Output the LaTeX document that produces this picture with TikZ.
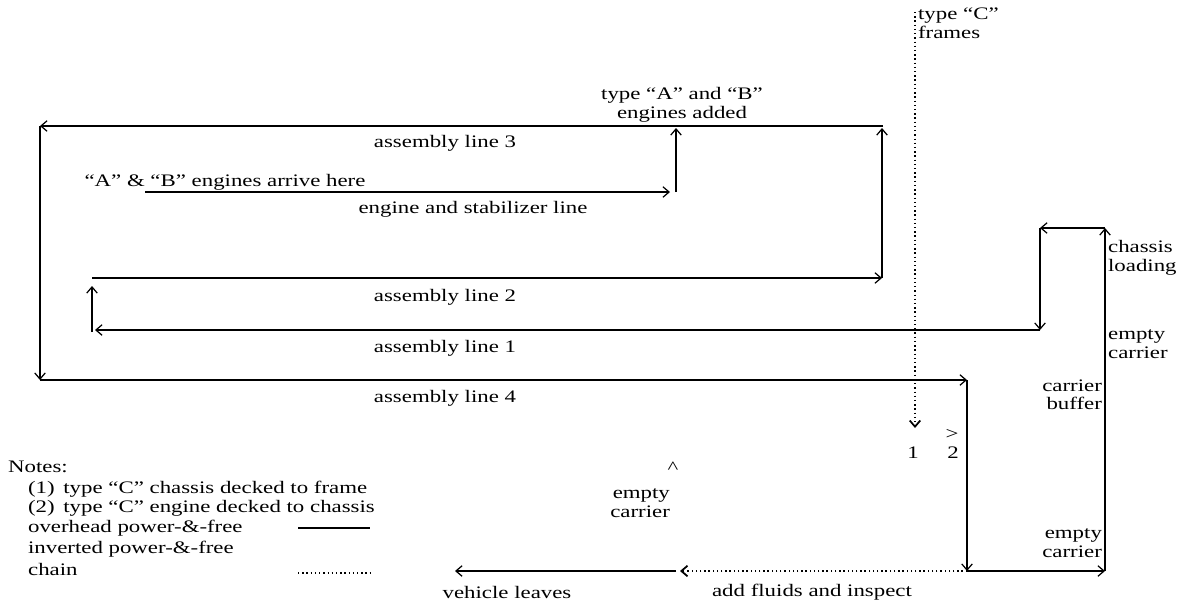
\documentclass[tikz,border=0pt]{standalone}
\usepackage{fontspec}
\setmainfont[FakeStretch=1.3]{Liberation Serif}
\usetikzlibrary{arrows.meta}

\tikzset{
  conv/.style={line width=0.7pt, -{Straight Barb[length=3.5pt,width=6pt]}},
  chainline/.style={conv, dash pattern=on 0.8pt off 1.6pt, line width=1pt},
  plain/.style={line width=0.7pt},
  lbl/.style={inner sep=1pt, font=\fontsize{10}{10.5}\selectfont},
}

\begin{document}
\begin{tikzpicture}[x=0.02cm,y=-0.02cm]
\useasboundingbox (0,0) rectangle (1189,603);

%% corner points

\coordinate (l3e) at (883,126);
\coordinate (l3w) at (40,126);
\coordinate (l4w) at (40,380);
\coordinate (l4e) at (967,380);
\coordinate (l2w) at (92,278);
\coordinate (l2e) at (882,278);
\coordinate (l1e) at (1040,330);
\coordinate (l1w) at (95,330);
\coordinate (l2in) at (92,332);
\coordinate (l2up) at (92,286);
\coordinate (engw) at (145,192);
\coordinate (enge) at (670,192);
\coordinate (engbot) at (676,192);
\coordinate (engtop) at (676,128);
\coordinate (l3in) at (882,128);
\coordinate (cltop) at (1105,228);
\coordinate (cltopw) at (1040,228);
\coordinate (cbot) at (1105,571);
\coordinate (fluide) at (967,571);
\coordinate (fluidw) at (680,571);
\coordinate (leavee) at (676,571);
\coordinate (leave) at (455,571);
\coordinate (cftop) at (915,12);
\coordinate (cfbot) at (915,428);

%% lines

\draw[conv] (l3e) -- (l3w);
\draw[conv] (l3w) -- (l4w);
\draw[conv] (l4w) -- (l4e);
\draw[conv] (l4e) -- (fluide);
\draw[conv] (fluide) -- (cbot);
\draw[conv] (cbot) -- (cltop);
\draw[conv] (cltop) -- (cltopw);
\draw[conv] (cltopw) -- (l1e);
\draw[conv] (l1e) -- (l1w);
\draw[conv] (l2in) -- (l2up);
\draw[conv] (l2w) -- (l2e);
\draw[conv] (l2e) -- (l3in);
\draw[conv] (engw) -- (enge);
\draw[conv] (engbot) -- (engtop);
\draw[chainline] (fluide) -- (fluidw);
\draw[conv] (leavee) -- (leave);
\draw[chainline] (cftop) -- (cfbot);

%% labels

\node[lbl, align=left, anchor=north west] (cframes) at (916,6) {type ``C''\\frames};
\node[lbl, align=center] (abadded) at (682,105) {type ``A'' and ``B''\\engines added};
\node[lbl] (line3) at (445,143) {assembly line 3};
\node[lbl] (arrive) at (225,182) {``A'' \& ``B'' engines arrive here};
\node[lbl] (engline) at (473,209) {engine and stabilizer line};
\node[lbl] (line2) at (445,297) {assembly line 2};
\node[lbl] (line1) at (445,348) {assembly line 1};
\node[lbl] (line4) at (445,398) {assembly line 4};
\node[lbl, align=left, anchor=west] (loading) at (1106,258) {chassis\\loading};
\node[lbl, align=left, anchor=west] (empty1) at (1106,344) {empty\\carrier};
\node[lbl, align=right, anchor=east] (buffer) at (1104,395) {carrier\\buffer};
\node[lbl, align=right, anchor=east] (empty2) at (1104,543) {empty\\carrier};
\node[lbl, align=right, anchor=east] (empty3) at (672,503) {empty\\carrier};
\node[lbl] (caret) at (673,468) {\textasciicircum};
\node[lbl] (one) at (913,453) {1};
\node[lbl] (gt) at (952,434) {>};
\node[lbl] (two) at (953,453) {2};
\node[lbl] (leaves) at (507,592) {vehicle leaves};
\node[lbl] (fluids) at (812,592) {add fluids and inspect};

%% notes

\node[lbl, anchor=west] (notes) at (6,467) {Notes:};
\node[lbl, anchor=west] (note1) at (26,489) {(1)\, type ``C'' chassis decked to frame};
\node[lbl, anchor=west] (note2) at (26,508) {(2)\, type ``C'' engine decked to chassis};
\node[lbl, anchor=west] (overhead) at (26,528) {overhead power-\&-free};
\node[lbl, anchor=west] (inverted) at (26,549) {inverted power-\&-free};
\node[lbl, anchor=west] (chain) at (26,569) {chain};
\coordinate (kso) at (298,528);
\coordinate (keo) at (370,528);
\coordinate (ksc) at (298,573);
\coordinate (kec) at (370,573);
\draw[plain] (kso) -- (keo);
\draw[plain, dash pattern=on 0.8pt off 1.6pt, line width=1pt] (ksc) -- (kec);

\end{tikzpicture}
\end{document}
